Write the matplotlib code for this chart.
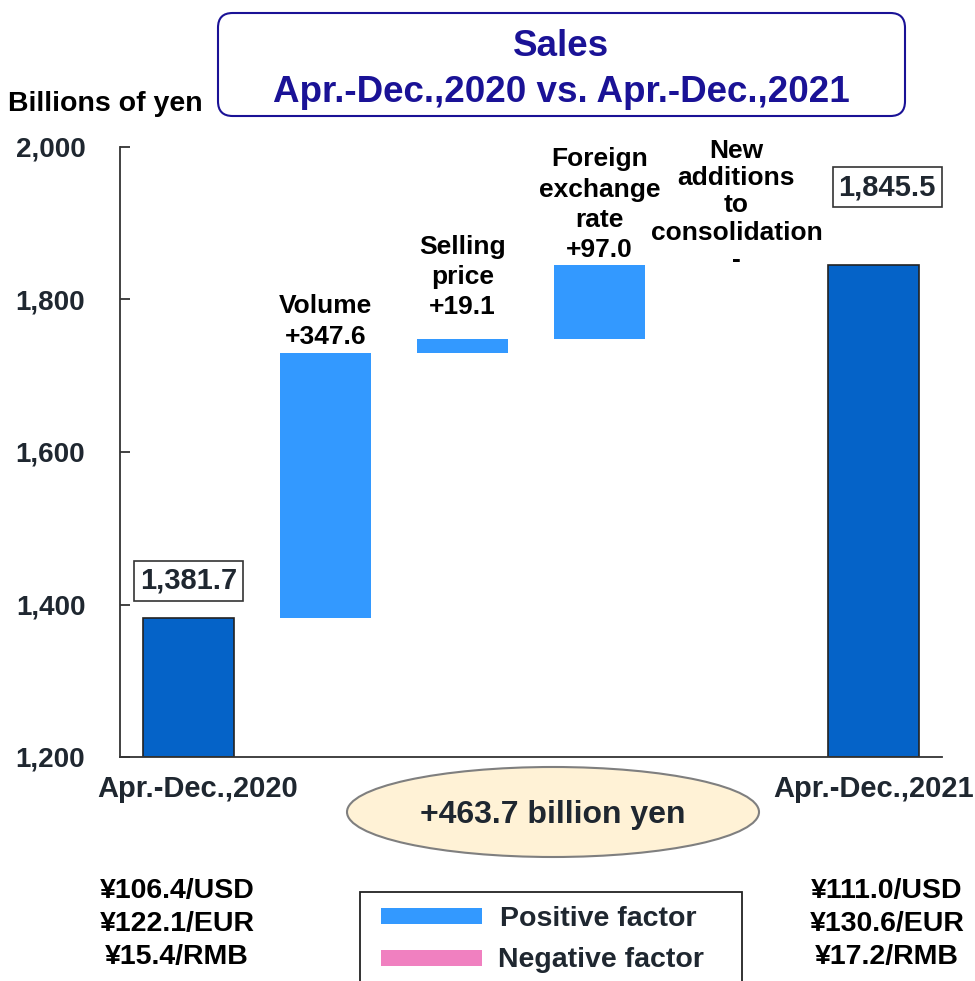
import matplotlib
matplotlib.use("Agg")
import matplotlib.pyplot as plt
from matplotlib.patches import FancyBboxPatch, Ellipse, Rectangle

plt.rcParams['font.family'] = ['Liberation Sans', 'DejaVu Sans']
plt.rcParams['font.weight'] = 'bold'

# data
start_label = "Apr.-Dec.,2020"
end_label = "Apr.-Dec.,2021"
start_total = 1381.7
end_total = 1845.5
step_names = ["Volume", "Selling\nprice", "Foreign\nexchange\nrate", "New\nadditions\nto\nconsolidation"]
step_values = [347.6, 19.1, 97.0, 0.0]
step_texts = ["+347.6", "+19.1", "+97.0", "-"]
total_change = "+463.7 billion yen"
rates_2020 = ["\u00a5106.4/USD", "\u00a5122.1/EUR", "\u00a515.4/RMB"]
rates_2021 = ["\u00a5111.0/USD", "\u00a5130.6/EUR", "\u00a517.2/RMB"]
yticks = [1200, 1400, 1600, 1800, 2000]

W, H = 975, 981
dark_blue = '#0563C8'
light_blue = '#3399FF'
pink = '#F080C0'
txt = '#1f2730'
navy = '#1a1296'

# label offsets above each step (points) and line spacing
lab_off = [3, 14, 2, -5]
lab_ls = [1.38, 1.33, 1.33, 1.17]

fig = plt.figure(figsize=(W / 100, H / 100), dpi=100)

# helper: pixel coords (top-left origin) -> figure fraction
def fx(x):
  return x / W
def fy(y):
  return 1 - y / H

ax = fig.add_axes([fx(120), fy(757), fx(942) - fx(120), fy(147) - fy(757)])
ax.set_xlim(-0.5, 5.5)
ax.set_ylim(1200, 2000)

bw = 0.665
# totals
ax.bar(0, start_total - 1200, bottom=1200, width=bw, color=dark_blue, edgecolor='#222222', linewidth=1.2)
ax.bar(5, end_total - 1200, bottom=1200, width=bw, color=dark_blue, edgecolor='#222222', linewidth=1.2)

# steps
level = start_total
for i, (name, v, t) in enumerate(zip(step_names, step_values, step_texts)):
  x = i + 1
  if v > 0:
    ax.bar(x, v, bottom=level, width=bw, color=light_blue, linewidth=0)
  elif v < 0:
    ax.bar(x, -v, bottom=level + v, width=bw, color=pink, linewidth=0)
  top = max(level, level + v)
  ax.annotate(name + "\n" + t, (x, top), xytext=(0, lab_off[i]), textcoords='offset points',
              ha='center', va='bottom', fontsize=19, fontweight='bold', color='black',
              linespacing=lab_ls[i])
  level += v

# value boxes for totals
ax.annotate(f"{start_total:,.1f}", (0, start_total), xytext=(0, 27), textcoords='offset points',
            ha='center', va='center', fontsize=21, fontweight='bold', color=txt,
            bbox=dict(boxstyle='square,pad=0.2', fc='white', ec='#333333', lw=1.2))
ax.annotate(f"{end_total:,.1f}", (5.1, end_total), xytext=(0, 56), textcoords='offset points',
            ha='center', va='center', fontsize=21, fontweight='bold', color=txt,
            bbox=dict(boxstyle='square,pad=0.2', fc='white', ec='#333333', lw=1.2))

# axes styling
for s in ['top', 'right']:
  ax.spines[s].set_visible(False)
ax.spines['left'].set_color('#333333')
ax.spines['bottom'].set_color('#333333')
ax.spines['left'].set_linewidth(1.3)
ax.spines['bottom'].set_linewidth(1.3)
ax.set_yticks(yticks)
ax.set_yticklabels([f"{v:,}" for v in yticks], fontsize=20, fontweight='bold', color=txt)
ax.tick_params(axis='y', direction='in', length=7, width=1.3, color='#333333', pad=25)
ax.set_xticks([0.07, 5])
ax.set_xticklabels([start_label, end_label], fontsize=21, fontweight='bold', color=txt)
ax.tick_params(axis='x', length=0, pad=13)

# y unit label
fig.text(fx(8), fy(104), "Billions of yen", ha='left', va='center', fontsize=20.5, fontweight='bold', color='black')

# title box
tb = FancyBboxPatch((fx(218), fy(116)), fx(905) - fx(218), fy(13) - fy(116),
                    boxstyle='round,pad=0,rounding_size=0.015', transform=fig.transFigure,
                    fc='white', ec=navy, lw=1.5)
fig.patches.append(tb)
fig.text(fx(561), fy(47), "Sales", ha='center', va='center', fontsize=26.5, fontweight='bold', color=navy)
fig.text(fx(561), fy(93), "Apr.-Dec.,2020 vs. Apr.-Dec.,2021", ha='center', va='center',
         fontsize=26.5, fontweight='bold', color=navy)

# total change ellipse
el = Ellipse((fx(553), fy(812)), fx(759) - fx(347), fy(767) - fy(857), transform=fig.transFigure,
             fc='#FFF2D6', ec='#7f7f7f', lw=1.5)
fig.patches.append(el)
fig.text(fx(553), fy(815), total_change, ha='center', va='center', fontsize=23, fontweight='bold', color=txt)

# legend box
lb = Rectangle((fx(360), fy(990)), fx(742) - fx(360), fy(892) - fy(990), transform=fig.transFigure,
               fc='white', ec='#222222', lw=1.3)
fig.patches.append(lb)
fig.patches.append(Rectangle((fx(381), fy(924)), fx(482) - fx(381), fy(908) - fy(924),
                             transform=fig.transFigure, fc=light_blue, ec='none'))
fig.patches.append(Rectangle((fx(381), fy(966)), fx(482) - fx(381), fy(950) - fy(966),
                             transform=fig.transFigure, fc=pink, ec='none'))
fig.text(fx(500), fy(919), "Positive factor", ha='left', va='center', fontsize=20.5, fontweight='bold', color=txt)
fig.text(fx(498), fy(960), "Negative factor", ha='left', va='center', fontsize=20.5, fontweight='bold', color=txt)

# exchange rates
for i, r in enumerate(rates_2020):
  fig.text(fx(177), fy(891 + 33 * i), r, ha='center', va='center', fontsize=20.5, fontweight='bold', color='black')
for i, r in enumerate(rates_2021):
  fig.text(fx(887), fy(891 + 33 * i), r, ha='center', va='center', fontsize=20.5, fontweight='bold', color='black')

fig.savefig("out.png", dpi=100)
